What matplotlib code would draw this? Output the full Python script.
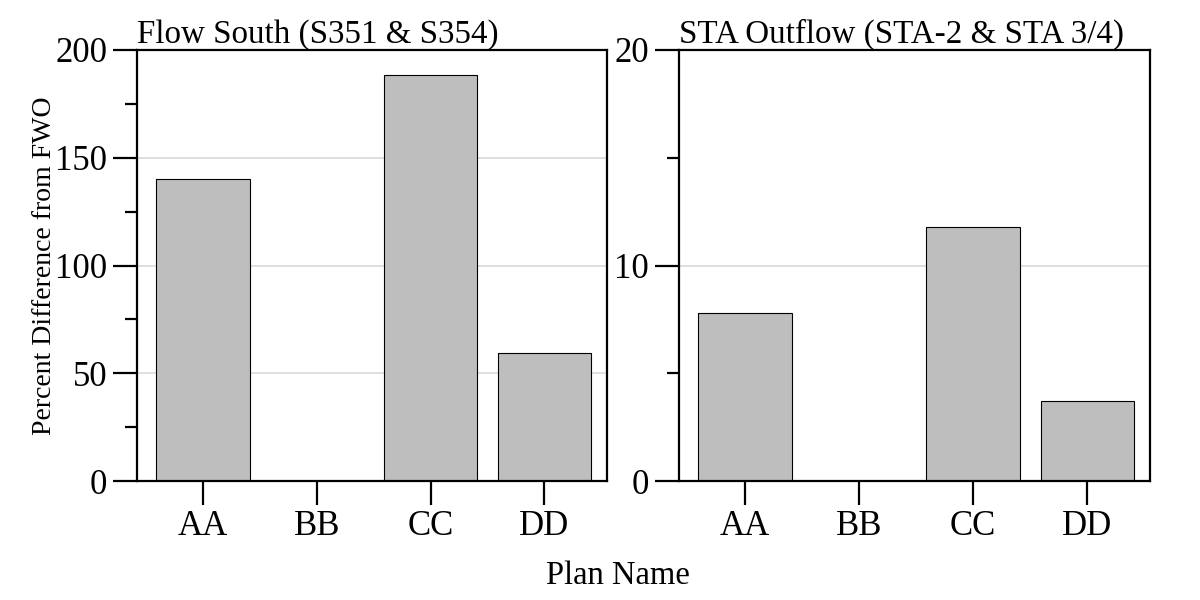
import matplotlib
matplotlib.use("Agg")
import matplotlib.pyplot as plt
from matplotlib.ticker import MultipleLocator

plt.rcParams['font.family'] = ['Liberation Serif', 'DejaVu Serif']

plans = ["AA", "BB", "CC", "DD"]
flow_south = [140, 0, 188.4, 59.4]
sta_outflow = [7.8, 0, 11.8, 3.7]

titles = ["Flow South (S351 & S354)", "STA Outflow (STA-2 & STA 3/4)"]
ylims = [(0, 200), (0, 20)]
major = [50, 10]
minor = [25, 5]

fig = plt.figure(figsize=(12, 6), dpi=100)
ax1 = fig.add_axes([137 / 1200, 119 / 600, 470 / 1200, 431 / 600])
ax2 = fig.add_axes([679 / 1200, 119 / 600, 471 / 1200, 431 / 600])

x = list(range(1, len(plans) + 1))
for ax, vals, title, ylim, maj, mnr in zip([ax1, ax2], [flow_south, sta_outflow],
                                          titles, ylims, major, minor):
    ax.bar(x, vals, width=0.82, color="#BEBEBE", edgecolor="black",
           linewidth=0.8, zorder=3)
    ax.set_xlim(0.42, 4.55)
    ax.set_ylim(*ylim)
    ax.yaxis.set_major_locator(MultipleLocator(maj))
    ax.yaxis.set_minor_locator(MultipleLocator(mnr))
    ax.set_xticks(x)
    ax.set_xticklabels(plans)
    ax.grid(axis="y", which="major", color="#D9D9D9", linewidth=1.2, zorder=0)
    for s in ax.spines.values():
        s.set_linewidth(1.6)
        s.set_zorder(4)
    ax.tick_params(axis="both", which="major", length=17, width=1.6,
                   labelsize=25)
    ax.tick_params(axis="y", which="major", pad=4.5)
    ax.tick_params(axis="x", which="major", pad=4)
    ax.tick_params(axis="y", which="minor", length=8.5, width=1.6)
    ax.set_title(title, loc="left", fontsize=23.8, pad=3)

ax1.set_ylabel("Percent Difference from FWO", fontsize=20)
ax1.yaxis.set_label_coords(-0.17, 0.5)
fig.text(618 / 1200, 0.04, "Plan Name", ha="center", va="center", fontsize=23.5)

fig.savefig("out.png", dpi=100)
